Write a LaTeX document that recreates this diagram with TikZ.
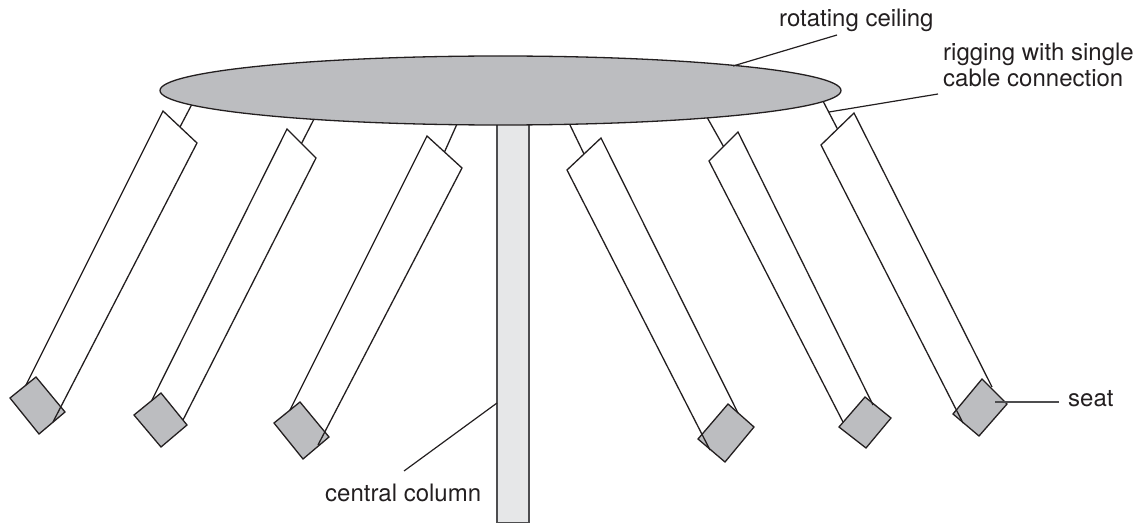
\documentclass[tikz,border=0pt]{standalone}
\usepackage{fontspec}
\setmainfont{TeX Gyre Heros}
\usetikzlibrary{calc}
\definecolor{ink}{HTML}{231F20}
\definecolor{ceilgray}{HTML}{BCBDC0}
\definecolor{colgray}{HTML}{E6E7E8}
\definecolor{colline}{HTML}{4D4D4F}
\tikzset{
  rig/.style={draw=ink, line width=1.3pt, line join=miter},
  seatbox/.style={draw=ink, fill=ceilgray, line width=1.3pt, line join=miter},
  lead/.style={draw=ink, line width=1.2pt},
  lbl/.style={text=ink, inner sep=0pt, font=\fontsize{24}{26}\selectfont},
}
\begin{document}
\begin{tikzpicture}[x=1pt,y=-1pt]
\useasboundingbox (0,0) rectangle (1143,524);
% central column
\filldraw[fill=colgray, draw=colline, line width=1.5pt] (497,110) rectangle (529,522.5);
% swing top corners and cable anchors
\coordinate (C1) at (191,106); \coordinate (TL1) at (163,111); \coordinate (TR1) at (197,143);
\coordinate (C2) at (313,121); \coordinate (TL2) at (287,129); \coordinate (TR2) at (316,158);
\coordinate (C3) at (457,124); \coordinate (TL3) at (427,136); \coordinate (TR3) at (462,168);
\coordinate (C4) at (570,125); \coordinate (TL4) at (567,170); \coordinate (TR4) at (601,138);
\coordinate (C5) at (708,119); \coordinate (TL5) at (709,161); \coordinate (TR5) at (738,132);
\coordinate (C6) at (824,103); \coordinate (TL6) at (821,145); \coordinate (TR6) at (854,113);
% cables (drawn below the ceiling)
\foreach \i in {1,...,6}{
  \coordinate (M\i) at ($(TL\i)!0.5!(TR\i)$);
  \draw[rig] (M\i) -- ($(M\i)!1.25!(C\i)$);
}
% rotating ceiling
\filldraw[draw=ink, fill=ceilgray, line width=1.3pt] (500.5,90.5) ellipse [x radius=340.5, y radius=34.5];
% seats
\filldraw[seatbox] (10,398) -- (36,377) -- (65,412) -- (39,434) -- cycle;
\filldraw[seatbox] (134,415) -- (161,393) -- (187,425) -- (161,447) -- cycle;
\filldraw[seatbox] (274,423) -- (300,402) -- (329,437) -- (303,459) -- cycle;
\filldraw[seatbox] (698,439) -- (728,404) -- (754,427) -- (725,462) -- cycle;
\filldraw[seatbox] (839,427) -- (865,397) -- (891,418) -- (866,448) -- cycle;
\filldraw[seatbox] (953,414) -- (982,379) -- (1007,404) -- (979,436) -- cycle;
\coordinate (S6) at (995,402);
% frames
\draw[rig] (26,385) -- (TL1) -- (TR1) -- (53,422);
\draw[rig] (152,400) -- (TL2) -- (TR2) -- (183,420);
\draw[rig] (290,410) -- (TL3) -- (TR3) -- (318,445);
\draw[rig] (710,450) -- (TL4) -- (TR4) -- (738,413);
\draw[rig] (843,422) -- (TL5) -- (TR5) -- (873,405);
\draw[rig] (963,423) -- (TL6) -- (TR6) -- (992,387);
% labels
\node[lbl, anchor=base west] (ceil) at (779,27) {rotating ceiling};
\node[lbl, anchor=base west, align=left] (rigl) at (943,87) {rigging with single\\cable connection};
\node[lbl, anchor=base west] (seatl) at (1068,406) {seat};
\node[lbl, anchor=base west] (coll) at (325,501) {central column};
\coordinate (ceilpt) at (733,66);
\coordinate (rigpt) at (829,112);
\coordinate (colpt) at (497,403);
\draw[lead] (837,35) -- (ceilpt);
\draw[lead] (938,94) -- (rigpt);
\draw[lead, draw=colline, line width=1.5pt] (1059,402) -- (S6);
\draw[lead] (404,471) -- (colpt);
\end{tikzpicture}
\end{document}
